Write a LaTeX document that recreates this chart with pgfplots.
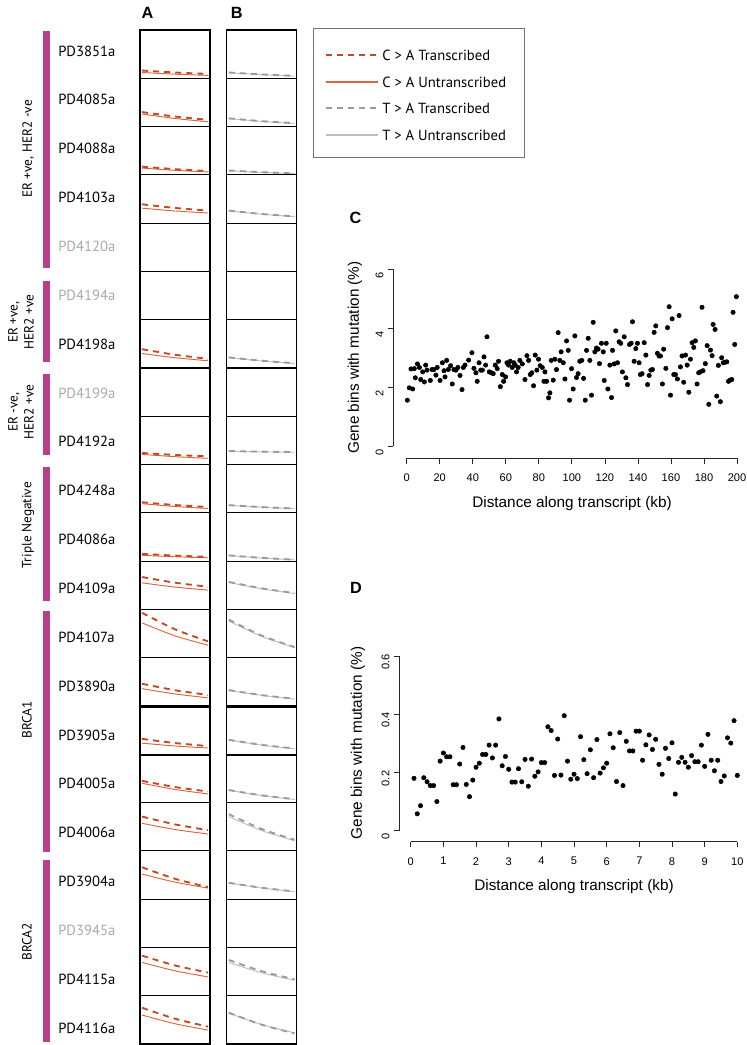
\documentclass[border=0pt]{standalone}
\usepackage{fontspec}
\setmainfont{Liberation Sans}
\newfontfamily\lab{PT Sans}
\usepackage{pgfplots}
\pgfplotsset{compat=1.18}
\definecolor{magbar}{RGB}{185,62,140}
\definecolor{cat}{RGB}{198,72,30}
\definecolor{cau}{RGB}{218,100,62}
\definecolor{tat}{RGB}{155,155,155}
\definecolor{tau}{RGB}{190,190,190}
\definecolor{greylab}{RGB}{170,170,170}
\tikzset{
 catr/.style={color=cat, line width=1.4pt, dash pattern=on 4.5pt off 3.8pt},
 caun/.style={color=cau, line width=0.7pt},
 tatr/.style={color=tat, line width=1.4pt, dash pattern=on 4.5pt off 3.8pt},
 taun/.style={color=tau, line width=0.7pt},
 axisline/.style={black!85, line width=0.6pt},
}
\pgfplotsset{
 mini/.style={scale only axis, width=52.5pt, height=36.21pt, xmin=0, xmax=1, ymin=0, ymax=1,
   xtick=\empty, ytick=\empty, anchor=north west, axis line style={line width=0.85pt}},
 rstyle/.style={scale only axis, anchor=south west, axis x line*=bottom, axis y line*=left,
   axis line style={draw=none}, tick align=outside, major tick length=3.9pt,
   tick style={draw=black!85, line width=0.6pt},
   yticklabel style={rotate=90, anchor=south, xshift=-4.5pt},
   xticklabel style={yshift=-4.3pt},
   ticklabel style={font=\fontsize{8.3}{9}\selectfont},
   /pgf/number format/assume math mode=true, clip=false},
}
\newcommand{\Ap}[7]{%
 \pgfmathsetmacro{\yy}{-(30+(#1-1)*48.286)*0.75}%
 \begin{axis}[mini, at={(105pt,\yy pt)}]
 \addplot[caun, smooth] coordinates {(0.03,#5) (0.5,#6) (0.97,#7)};
 \addplot[catr, smooth] coordinates {(0.03,#2) (0.5,#3) (0.97,#4)};
 \end{axis}}
\newcommand{\Bp}[7]{%
 \pgfmathsetmacro{\yy}{-(30+(#1-1)*48.286)*0.75}%
 \begin{axis}[mini, at={(170pt,\yy pt)}]
 \addplot[taun, smooth] coordinates {(0.03,#5) (0.5,#6) (0.97,#7)};
 \addplot[tatr, smooth] coordinates {(0.03,#2) (0.5,#3) (0.97,#4)};
 \end{axis}}
\newcommand{\Ep}[1]{%
 \pgfmathsetmacro{\yy}{-(30+(#1-1)*48.286)*0.75}%
 \begin{axis}[mini, at={(105pt,\yy pt)}]
 \addplot[draw=none] coordinates {(0.5,0.5)};
 \end{axis}
 \begin{axis}[mini, at={(170pt,\yy pt)}]
 \addplot[draw=none] coordinates {(0.5,0.5)};
 \end{axis}}
\begin{document}
\begin{tikzpicture}
\path[use as bounding box] (0,0) rectangle (559.5pt,-783.75pt);
% ---- panels A and B
\Ap{1}{0.16}{0.12}{0.09}{0.12}{0.085}{0.06}
\Bp{1}{0.12}{0.08}{0.05}{0.115}{0.075}{0.045}
\Ap{2}{0.30}{0.207}{0.14}{0.26}{0.167}{0.10}
\Bp{2}{0.17}{0.112}{0.07}{0.165}{0.107}{0.065}
\Ap{3}{0.17}{0.118}{0.08}{0.14}{0.094}{0.06}
\Bp{3}{0.09}{0.055}{0.03}{0.085}{0.052}{0.028}
\Ap{4}{0.39}{0.315}{0.26}{0.31}{0.252}{0.21}
\Bp{4}{0.26}{0.19}{0.14}{0.255}{0.185}{0.135}
\Ep{5}
\Ep{6}
\Ap{7}{0.39}{0.274}{0.19}{0.30}{0.213}{0.15}
\Bp{7}{0.22}{0.15}{0.10}{0.215}{0.145}{0.095}
\Ep{8}
\Ap{9}{0.24}{0.199}{0.17}{0.21}{0.164}{0.13}
\Bp{9}{0.28}{0.268}{0.26}{0.275}{0.263}{0.255}
\Ap{10}{0.22}{0.162}{0.12}{0.19}{0.132}{0.09}
\Bp{10}{0.16}{0.12}{0.09}{0.155}{0.115}{0.085}
\Ap{11}{0.15}{0.115}{0.09}{0.12}{0.091}{0.07}
\Bp{11}{0.12}{0.068}{0.03}{0.115}{0.065}{0.028}
\Ap{12}{0.67}{0.554}{0.47}{0.55}{0.463}{0.40}
\Bp{12}{0.57}{0.437}{0.34}{0.56}{0.427}{0.33}
\Ap{13}{0.93}{0.588}{0.34}{0.72}{0.453}{0.26}
\Bp{13}{0.79}{0.459}{0.22}{0.76}{0.441}{0.21}
\Ap{14}{0.46}{0.327}{0.23}{0.36}{0.25}{0.17}
\Bp{14}{0.33}{0.226}{0.15}{0.325}{0.221}{0.145}
\Ap{15}{0.32}{0.233}{0.17}{0.23}{0.172}{0.13}
\Bp{15}{0.30}{0.196}{0.12}{0.295}{0.19}{0.115}
\Ap{16}{0.45}{0.322}{0.23}{0.40}{0.272}{0.18}
\Bp{16}{0.26}{0.15}{0.07}{0.255}{0.145}{0.065}
\Ap{17}{0.71}{0.548}{0.43}{0.57}{0.442}{0.35}
\Bp{17}{0.76}{0.453}{0.23}{0.71}{0.42}{0.21}
\Ap{18}{0.66}{0.422}{0.25}{0.52}{0.352}{0.23}
\Bp{18}{0.34}{0.236}{0.16}{0.335}{0.231}{0.155}
\Ep{19}
\Ap{20}{0.83}{0.627}{0.48}{0.69}{0.516}{0.39}
\Bp{20}{0.74}{0.508}{0.34}{0.69}{0.475}{0.32}
\Ap{21}{0.75}{0.524}{0.36}{0.60}{0.42}{0.29}
\Bp{21}{0.65}{0.401}{0.22}{0.64}{0.402}{0.23}
% ---- panel C
\begin{axis}[rstyle, at={(294.98pt,-343.73pt)}, width=267.7pt, height=147.1pt,
  xmin=-8.1, xmax=208, ymin=-0.41, ymax=6.24, xtick={0,20,...,200}, ytick={0,2,4,6}]
\addplot[only marks, mark=*, mark size=1.65pt, black] table {
x y
0.4 1.56
1.6 1.98
2.6 2.62
3.6 1.94
4.6 2.63
5.2 2.32
6.5 2.79
7.7 2.67
8.5 2.26
9.7 2.52
10.7 2.18
11.5 2.75
12.3 2.58
14.3 2.23
15.3 2.60
16.5 2.60
17.7 2.41
18.5 2.67
20.2 2.23
21.6 2.83
22.6 2.56
23.2 2.35
24.2 2.91
25.2 2.60
26.6 2.73
27.6 2.11
28.6 2.60
29.8 2.58
31.0 2.67
32.3 2.40
33.5 1.92
34.3 2.67
35.3 2.75
37.5 2.92
39.5 3.17
40.7 2.64
41.9 2.49
42.7 2.20
43.8 2.83
44.8 2.58
45.8 2.58
46.8 3.03
47.8 2.75
48.6 3.71
50.0 2.52
51.2 2.49
52.4 2.46
53.6 2.75
54.8 2.63
55.6 2.88
56.7 2.02
57.9 2.43
58.7 2.20
59.9 2.35
60.7 2.83
61.7 2.75
62.7 2.88
63.9 2.67
64.9 2.83
65.7 2.75
66.5 2.52
67.5 2.67
68.5 2.91
70.0 2.79
71.6 2.26
72.8 3.07
73.8 2.91
74.8 2.43
75.8 2.49
76.8 2.05
77.8 3.09
78.8 2.58
79.8 2.95
80.8 2.73
82.1 2.67
83.1 2.20
83.7 2.52
84.7 2.20
85.9 1.64
86.7 1.81
87.5 2.91
88.7 2.24
89.7 2.95
90.7 2.60
91.7 3.85
92.7 2.91
93.5 3.20
94.8 2.83
95.8 2.28
96.8 3.57
97.8 3.25
98.6 1.56
99.8 2.63
100.8 1.94
101.8 3.74
102.8 2.33
103.8 2.46
104.8 2.88
106.0 2.91
107.1 2.30
108.1 1.56
108.9 3.25
109.9 3.66
110.9 2.91
111.9 1.73
112.9 4.20
113.9 3.20
114.9 3.33
115.9 3.29
116.7 2.80
117.9 3.49
119.0 3.20
119.6 2.23
120.8 3.49
121.8 1.94
123.0 2.75
124.0 1.65
124.6 3.25
125.6 2.79
126.6 3.91
127.6 2.83
128.6 3.54
129.6 3.49
130.6 2.52
131.7 3.71
132.7 2.32
133.7 2.09
134.9 3.45
135.9 3.49
136.7 4.22
137.7 2.88
138.7 3.31
139.7 3.49
140.7 2.83
141.5 2.43
142.5 2.46
143.8 3.51
144.8 3.09
145.8 2.09
146.8 2.40
147.8 2.58
148.8 2.60
149.8 3.86
150.8 4.08
151.8 3.15
152.8 3.06
153.6 3.06
154.8 2.11
155.6 3.29
156.9 2.64
157.9 4.02
158.9 4.73
159.7 1.73
160.7 4.32
161.7 2.43
162.7 2.43
163.9 2.28
164.9 4.43
165.7 2.69
166.7 3.06
167.7 2.17
168.8 3.09
169.8 2.75
170.8 1.83
171.8 2.95
172.8 3.51
173.8 3.35
174.8 3.57
175.8 2.11
176.8 2.49
177.8 2.52
178.8 4.71
179.4 2.56
180.8 2.80
181.9 3.41
182.9 1.42
183.9 3.26
184.9 3.07
185.5 4.13
186.7 3.96
187.7 1.70
188.7 2.74
189.9 1.51
190.7 3.00
191.7 2.83
192.7 2.85
193.8 2.86
194.8 2.20
195.8 2.24
196.8 2.26
197.6 4.54
198.6 3.45
199.6 5.07
};
\draw[axisline] (axis cs:0,-0.41) -- (axis cs:200,-0.41);
\draw[axisline] (axis cs:-8.1,0) -- (axis cs:-8.1,6);
\end{axis}
% ---- panel D
\begin{axis}[rstyle, at={(299.48pt,-631.28pt)}, width=263.3pt, height=144.5pt,
  xmin=-0.35, xmax=10.4, ymin=-0.0378, ymax=0.624, xtick={0,1,...,10}, ytick={0,0.2,0.4,0.6},
  yticklabels={0,0.2,0.4,0.6}]
\addplot[only marks, mark=*, mark size=1.65pt, black] table {
x y
0.1 0.180
0.2 0.058
0.3 0.086
0.4 0.182
0.5 0.168
0.6 0.155
0.7 0.155
0.8 0.100
0.9 0.239
1.0 0.267
1.1 0.254
1.2 0.254
1.3 0.158
1.4 0.158
1.5 0.229
1.6 0.286
1.7 0.159
1.8 0.117
1.9 0.174
2.0 0.218
2.1 0.232
2.2 0.262
2.3 0.262
2.4 0.294
2.5 0.250
2.6 0.294
2.7 0.384
2.8 0.223
2.9 0.255
3.0 0.211
3.1 0.167
3.2 0.167
3.3 0.213
3.4 0.168
3.5 0.245
3.6 0.153
3.7 0.246
3.8 0.187
3.9 0.202
4.0 0.234
4.1 0.234
4.2 0.357
4.3 0.344
4.4 0.190
4.5 0.315
4.6 0.191
4.7 0.395
4.8 0.239
4.9 0.177
5.0 0.194
5.1 0.179
5.2 0.323
5.3 0.244
5.4 0.196
5.5 0.278
5.6 0.182
5.7 0.313
5.8 0.198
5.9 0.216
6.0 0.232
6.1 0.333
6.2 0.285
6.3 0.169
6.4 0.337
6.5 0.155
6.6 0.307
6.7 0.274
6.8 0.274
6.9 0.342
7.0 0.342
7.1 0.242
7.2 0.295
7.3 0.329
7.4 0.279
7.5 0.314
7.6 0.228
7.7 0.194
7.8 0.283
7.9 0.248
8.0 0.302
8.1 0.126
8.2 0.235
8.3 0.252
8.4 0.235
8.5 0.218
8.6 0.258
8.7 0.237
8.8 0.237
8.9 0.294
9.0 0.221
9.1 0.331
9.2 0.242
9.3 0.206
9.4 0.242
9.5 0.169
9.6 0.188
9.7 0.319
9.8 0.301
9.9 0.378
10.0 0.190
};
\draw[axisline] (axis cs:0,-0.0378) -- (axis cs:10,-0.0378);
\draw[axisline] (axis cs:-0.35,0) -- (axis cs:-0.35,0.6);
\end{axis}
% ---- decorations in pixel units
\begin{scope}[x=0.75pt, y=-0.75pt]
\draw[line width=1.6pt] (140,706.7) -- (210.5,706.7) (226.7,706.7) -- (296.7,706.7);
\draw[line width=1.6pt] (140,755) -- (210.5,755) (226.7,755) -- (296.7,755);
% panel letters
\node[font=\bfseries\fontsize{12.2}{13}\selectfont] at (147.5,12.5) {A};
\node[font=\bfseries\fontsize{12.2}{13}\selectfont] at (236.7,12.5) {B};
\node[font=\bfseries\fontsize{12.2}{13}\selectfont] at (355.5,218) {C};
\node[font=\bfseries\fontsize{12.2}{13}\selectfont] at (356,588) {D};
% magenta bars
\fill[magbar] (43.3,31) rectangle (50,268);
\fill[magbar] (43.3,281) rectangle (50,362);
\fill[magbar] (43.3,374) rectangle (50,455);
\fill[magbar] (43.3,467) rectangle (50,601);
\fill[magbar] (43.3,611) rectangle (50,852);
\fill[magbar] (43.3,860) rectangle (50,1042);
% group labels
\begin{scope}[every node/.style={font=\lab\fontsize{10}{12}\selectfont, rotate=90, align=center}]
\node at (28,149) {ER +ve, HER2 -ve};
\node at (21,322) {ER +ve,\\HER2 +ve};
\node at (21,412) {ER -ve,\\HER2 +ve};
\node at (28,525) {Triple Negative};
\node at (27,720) {BRCA1};
\node at (27,942) {BRCA2};
\end{scope}
% sample labels
\begin{scope}[every node/.style={font=\lab\fontsize{11}{12}\selectfont, anchor=west, inner sep=0pt}]
\node at (58,51.0) {PD3851a};
\node at (58,99.85) {PD4085a};
\node at (58,148.7) {PD4088a};
\node at (58,197.55) {PD4103a};
\node[text=greylab] at (58,246.4) {PD4120a};
\node[text=greylab] at (58,295.25) {PD4194a};
\node at (58,344.1) {PD4198a};
\node[text=greylab] at (58,392.95) {PD4199a};
\node at (58,441.8) {PD4192a};
\node at (58,490.65) {PD4248a};
\node at (58,539.5) {PD4086a};
\node at (58,588.35) {PD4109a};
\node at (58,637.2) {PD4107a};
\node at (58,686.05) {PD3890a};
\node at (58,734.9) {PD3905a};
\node at (58,783.75) {PD4005a};
\node at (58,832.6) {PD4006a};
\node at (58,881.45) {PD3904a};
\node[text=greylab] at (58,930.3) {PD3945a};
\node at (58,979.15) {PD4115a};
\node at (58,1028.0) {PD4116a};
\end{scope}
% legend
\draw[black!55, line width=0.6pt] (313,28) rectangle (524,157);
\draw[catr] (326,55) -- (378,55);
\draw[caun, line width=1pt] (326,82) -- (378,82);
\draw[tatr] (326,108) -- (378,108);
\draw[taun, line width=1pt] (326,135) -- (378,135);
\begin{scope}[every node/.style={font=\lab\fontsize{11}{12}\selectfont, anchor=west, inner sep=0pt}]
\node at (382,55) {C > A Transcribed};
\node at (382,82) {C > A Untranscribed};
\node at (382,108) {T > A Transcribed};
\node at (382,135) {T > A Untranscribed};
\end{scope}
% axis titles C and D
\node[font=\fontsize{11.5}{13}\selectfont] at (572,504) {Distance along transcript (kb)};
\node[font=\fontsize{11.5}{13}\selectfont, rotate=90] at (355,357.6) {Gene bins with mutation (\%)};
\node[font=\fontsize{11.5}{13}\selectfont] at (574,887) {Distance along transcript (kb)};
\node[font=\fontsize{11.5}{13}\selectfont, rotate=90] at (358,743) {Gene bins with mutation (\%)};
\end{scope}
\end{tikzpicture}
\end{document}
